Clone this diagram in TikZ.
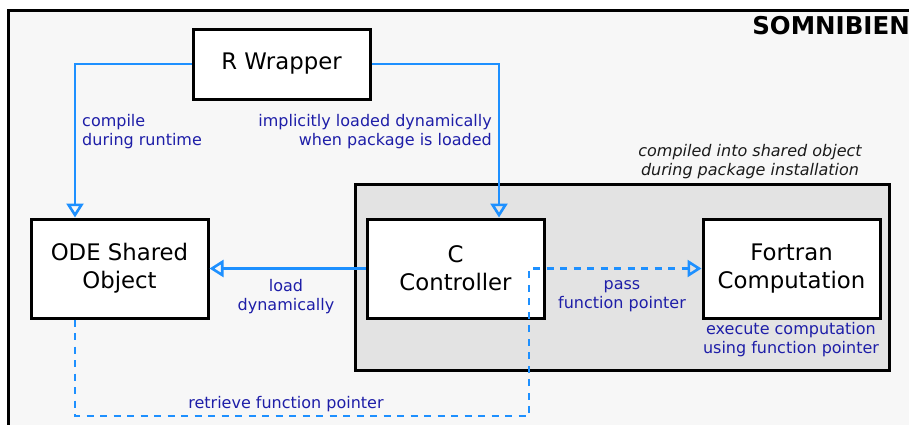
\documentclass[tikz,border=0pt]{standalone}
\usepackage{fontspec}
\setmainfont{DejaVu Sans}
\usetikzlibrary{arrows.meta}
\definecolor{bgc}{HTML}{F7F7F7}
\definecolor{boxgray}{HTML}{E3E3E3}
\definecolor{arrblue}{HTML}{1E90FF}
\definecolor{lblblue}{HTML}{1E1EA8}
\definecolor{darktext}{HTML}{1A1A1A}
\tikzset{
  compbox/.style={draw=black, fill=white, line width=3pt, minimum width=177pt, minimum height=99pt, inner sep=0pt, align=center, font=\fontsize{22.8}{28}\selectfont},
  arr/.style={draw=arrblue, line width=2.6pt, -{Triangle[open, length=14pt, width=17pt, line width=2.6pt]}},
  darr/.style={arr, dash pattern=on 7pt off 6.5pt},
  lbl/.style={text=lblblue, inner sep=0pt, font=\fontsize{16}{19}\selectfont},
  note/.style={text=darktext, inner sep=0pt, align=center, font=\fontsize{16}{19}\itshape\selectfont}
}
\begin{document}
\begin{tikzpicture}[x=1pt, y=-1pt]
\useasboundingbox (0,0) rectangle (909,424);
\fill[white] (0,0) rectangle (909,424);
\begin{scope}
\clip (0,0) rectangle (909,424);
\draw[line width=3pt, fill=bgc] (8,10) rectangle (940,450);
\end{scope}
\node[anchor=base east, inner sep=0pt, font=\fontsize{24.5}{28}\bfseries\selectfont] (title) at (910,34) {SOMNIBIEN};
% container
\node[draw=black, fill=boxgray, line width=3pt, minimum width=534pt, minimum height=186pt, inner sep=0pt] (cont) at (622,277) {};
\node[note] (contlbl) at (750,161.5) {compiled into shared object\\during package installation};
% boxes
\node[compbox, minimum height=70pt] (rw) at (281.5,64) {R Wrapper};
\node[compbox] (ode) at (119.5,268.5) {ODE Shared\\Object};
\node[compbox] (cc) at (455.5,268.5) {C\\Controller};
\node[compbox] (ft) at (791.5,268.5) {Fortran\\Computation};
% connectors
\draw[arr] (rw.west) -| ([xshift=-44.5pt]ode.north);
\draw[arr] (rw.east) -| ([xshift=43.5pt]cc.north);
\draw[arr] (cc.west) -- (ode.east);
\coordinate (turn) at (529,416);
\draw[darr] ([xshift=-44.5pt]ode.south) |- (turn) |- (ft.west);
% labels
\node[lbl, anchor=west, align=left] (l1) at (82,131.5) {compile\\during runtime};
\node[lbl, anchor=east, align=right] (l2) at (492,131.5) {implicitly loaded dynamically\\when package is loaded};
\node[lbl, align=center] (l3) at (286,296.5) {load\\dynamically};
\node[lbl, align=center] (l4) at (622,296.5) {pass\\function pointer};
\node[lbl, align=center] (l5) at (791,339.5) {execute computation\\using function pointer};
\node[lbl, align=center] (l6) at (286,404) {retrieve function pointer};
\end{tikzpicture}
\end{document}
